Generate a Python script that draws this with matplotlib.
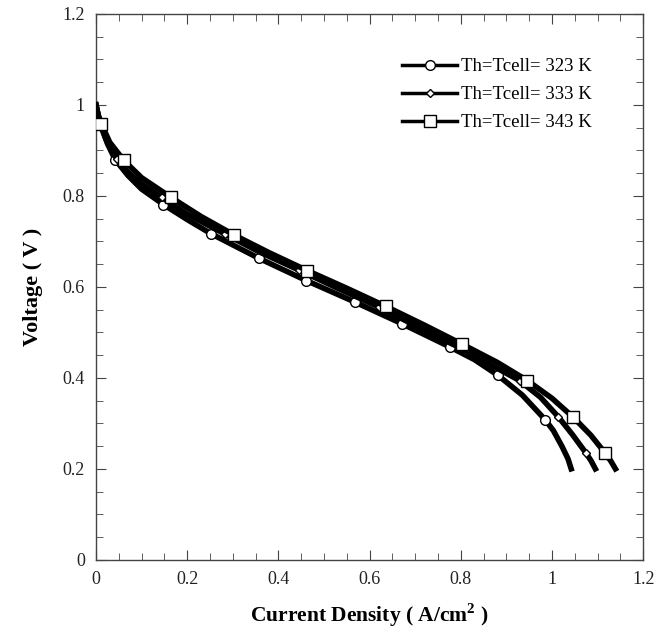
import matplotlib
matplotlib.use('Agg')
from matplotlib import pyplot as plt
from matplotlib.ticker import MultipleLocator, FormatStrFormatter

plt.rcParams['font.family'] = ['Liberation Serif', 'DejaVu Serif']
plt.rcParams['mathtext.fontset'] = 'custom'
plt.rcParams['mathtext.rm'] = 'Liberation Serif'
plt.rcParams['mathtext.bf'] = 'Liberation Serif:bold'

# Th=Tcell= 323 K
x323 = [0, 0.005, 0.012, 0.025, 0.042, 0.07, 0.10, 0.148, 0.2, 0.252, 0.357,
        0.461, 0.567, 0.671, 0.776, 0.83, 0.881, 0.935, 0.985, 1.003, 1.022, 1.035, 1.042]
y323 = [1.0, 0.975, 0.95, 0.915, 0.880, 0.845, 0.815, 0.781, 0.748, 0.717, 0.663,
        0.614, 0.567, 0.519, 0.468, 0.440, 0.406, 0.362, 0.308, 0.284, 0.249, 0.222, 0.200]
mk323 = [4, 7, 9, 10, 11, 12, 13, 14, 16, 18]

# Th=Tcell= 333 K
x333 = [0, 0.005, 0.012, 0.025, 0.045, 0.07, 0.10, 0.144, 0.2, 0.283, 0.36, 0.445,
        0.53, 0.620, 0.70, 0.79, 0.86, 0.929, 0.975, 1.014, 1.045, 1.075, 1.086, 1.095]
y333 = [1.0, 0.975, 0.952, 0.918, 0.882, 0.852, 0.826, 0.797, 0.760, 0.716, 0.676, 0.637,
        0.597, 0.556, 0.515, 0.470, 0.432, 0.394, 0.357, 0.314, 0.275, 0.234, 0.217, 0.200]
mk333 = [4, 7, 9, 11, 13, 17, 19, 21]

# Th=Tcell= 343 K
x343 = [0, 0.005, 0.012, 0.03, 0.061, 0.10, 0.164, 0.23, 0.303, 0.38, 0.463,
        0.55, 0.636, 0.72, 0.803, 0.88, 0.946, 1.0, 1.047, 1.085, 1.117, 1.129, 1.139]
y343 = [1.0, 0.978, 0.958, 0.918, 0.878, 0.840, 0.797, 0.755, 0.714, 0.675, 0.636,
        0.597, 0.557, 0.516, 0.474, 0.434, 0.394, 0.355, 0.313, 0.274, 0.234, 0.217, 0.200]
mk343 = [2, 4, 6, 8, 10, 12, 14, 16, 18, 20]

labels = ['Th=Tcell= 323 K', 'Th=Tcell= 333 K', 'Th=Tcell= 343 K']

fig = plt.figure(figsize=(6.69, 6.34), dpi=100, facecolor='w')
ax = fig.add_axes([0.1435, 0.117, 0.818, 0.861])

lw = 4.0
ax.plot(x323, y323, color='k', lw=lw, marker='o', markevery=mk323, ms=7,
        mfc='w', mec='k', mew=1.0, label=labels[0], zorder=3)
ax.plot(x333, y333, color='k', lw=lw, marker='D', markevery=mk333, ms=4.5,
        mfc='w', mec='k', mew=1.0, label=labels[1], zorder=4)
ax.plot(x343, y343, color='k', lw=lw, marker='s', markevery=mk343, ms=8,
        mfc='w', mec='k', mew=1.0, label=labels[2], zorder=5)

ax.set_xlim(0, 1.2)
ax.set_ylim(0, 1.2)
ax.xaxis.set_major_locator(MultipleLocator(0.2))
ax.xaxis.set_minor_locator(MultipleLocator(0.05))
ax.yaxis.set_major_locator(MultipleLocator(0.2))
ax.yaxis.set_minor_locator(MultipleLocator(0.05))
fmt = FormatStrFormatter('%g')
ax.xaxis.set_major_formatter(fmt)
ax.yaxis.set_major_formatter(fmt)
ax.tick_params(which='both', direction='in', top=True, right=True,
               labelsize=13, color='#444444', labelcolor='#222222')
ax.tick_params(which='major', length=7, pad=8)
ax.tick_params(which='minor', length=5)
for s in ax.spines.values():
    s.set_color('#444444')
    s.set_linewidth(1.0)

ax.set_xlabel('Current Density ( A/cm$^\\mathbf{2}$ )', fontsize=15.5,
              fontweight='bold', labelpad=10)
ax.set_ylabel('Voltage ( V )', fontsize=16, fontweight='bold', labelpad=14)

leg = ax.legend(loc='upper left', bbox_to_anchor=(0.529, 0.95), frameon=False,
                fontsize=13.5, handlelength=2.9, handletextpad=0.25,
                labelspacing=0.58)
for ln in leg.get_lines():
    ln.set_linewidth(2.5)

fig.savefig('out.png', dpi=100)
